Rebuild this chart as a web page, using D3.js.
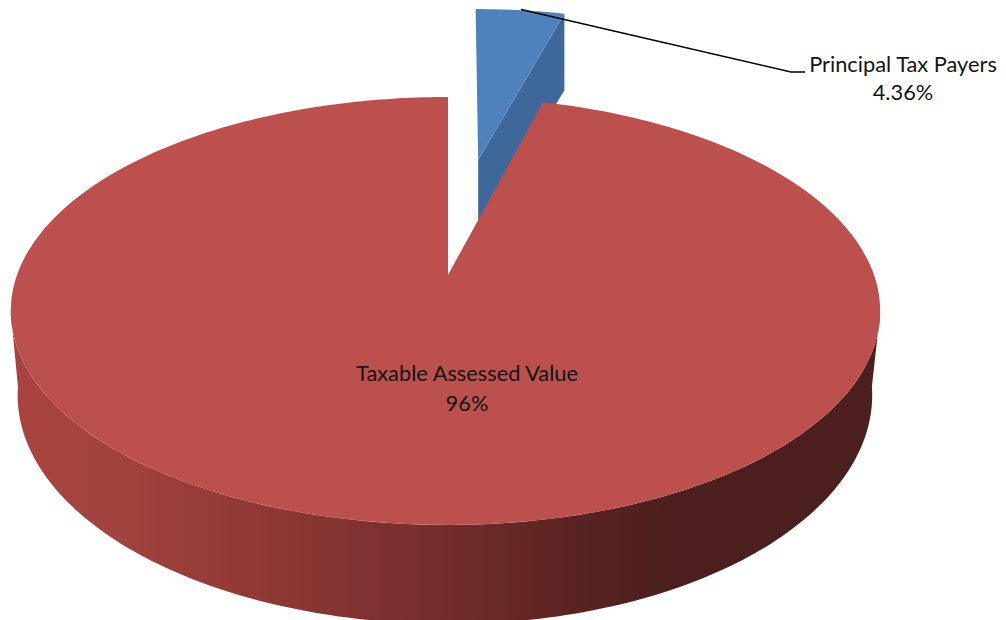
<!DOCTYPE html>
<html><head><meta charset="utf-8">
<script src="https://cdnjs.cloudflare.com/ajax/libs/d3/7.8.5/d3.min.js"></script>
<style>html,body{margin:0;background:#fff}svg{display:block}text{font-family:Lato,"Open Sans",sans-serif;fill:#141414}</style>
</head><body><svg id="c" width="1006" height="620"></svg>
<script>
const categories = ["Principal Tax Payers", "Taxable Assessed Value"];
const values = [4.36, 95.64];
const valueLabels = ["4.36%", "96%"];
const sliceColors = ["#4f81bd", "#bc504d"];
const sideColor = "#3d6899";
const rimStops = [[0,"#a8443f"],[0.12,"#a2433f"],[0.22,"#973c39"],[0.33,"#8a3633"],[0.5,"#732d2b"],[0.66,"#572220"],[0.78,"#4a1f1d"],[1,"#4a1f1d"]];

const svg = d3.select("#c");

// perspective planes of the disc: top face and bottom face
const topPlane = {cx:448, kL:431, kR:426, a:161.7, b:275, c:-0.168};
const botPlane = {cx:449, kL:422, kR:414, a:147, b:347.5, c:-0.2075};
const project = (pl, u, v) => {
  const d = 1 + pl.c * v;
  return [pl.cx + (u < 0 ? pl.kL : pl.kR) * u / d, (pl.a * v + pl.b) / d];
};
const explode = 0.615, blueRadius = 1.02, blueSideExtra = 5;
const redTrim = 0.7 * Math.PI / 180, blueStartTrim = 0.25 * Math.PI / 180, blueEndTrim = 0.45 * Math.PI / 180;

const arcs = d3.pie().sort(null).value(d => d)(values);
const blue = arcs[0], red = arcs[1];
const blueStart = blue.startAngle + blueStartTrim, blueEnd = blue.endAngle - blueEndTrim;
const redStart = red.startAngle - redTrim, redEnd = red.endAngle;

const rim = a => [Math.sin(a), -Math.cos(a)];
const samples = (a0, a1, n) => d3.range(n + 1).map(i => a0 + (a1 - a0) * i / n);
const line = d3.line();

// exploded slice offset along bisector
const mid = (blue.startAngle + blue.endAngle) / 2;
const off = [Math.sin(mid) * explode * 0.93, -Math.cos(mid) * explode];
const bluePt = (pl, a) => { const [u, v] = rim(a); return project(pl, u * blueRadius + off[0], v * blueRadius + off[1]); };
const blueApex = pl => project(pl, off[0], off[1]);
const dropped = p => [p(topPlane)[0], p(botPlane)[1] + blueSideExtra];

// gradient of the rim
const grad = svg.append("defs").append("linearGradient").attr("id", "rimGrad")
  .attr("gradientUnits", "userSpaceOnUse").attr("x1", 11).attr("x2", 880).attr("y1", 0).attr("y2", 0);
grad.selectAll("stop").data(rimStops).join("stop")
  .attr("offset", d => d[0]).attr("stop-color", d => d[1]);

// rim of large slice (front half only)
const sil0 = Math.PI * 0.555, sil1 = Math.PI * 1.445;
const rimTop = samples(sil0, sil1, 160).map(a => project(topPlane, ...rim(a)));
const rimBot = samples(sil1, sil0, 160).map(a => project(botPlane, ...rim(a)));
svg.append("path").attr("d", line(rimTop.concat(rimBot)) + "Z").attr("fill", "url(#rimGrad)");

// exploded slice: side then top
svg.append("path").attr("fill", sideColor).attr("d", line([
  blueApex(topPlane), bluePt(topPlane, blueEnd),
  dropped(pl => bluePt(pl, blueEnd)), dropped(blueApex)
]) + "Z");
svg.append("path").attr("fill", sliceColors[0]).attr("d", line(
  [blueApex(topPlane)].concat(samples(blueStart, blueEnd, 30).map(a => bluePt(topPlane, a)))
) + "Z");

// large slice top
svg.append("path").attr("fill", sliceColors[1]).attr("d", line(
  [project(topPlane, 0, 0)].concat(samples(redStart, redEnd, 360).map(a => project(topPlane, ...rim(a))))
) + "Z");

// leader line
svg.append("path").attr("fill", "none").attr("stroke", "#000").attr("stroke-width", 1.5)
  .attr("d", line([[521, 9.5], [791, 72], [805, 72]]));

// labels
const fs = 21.8;
const lab = [
  {x: 903, y: [72, 100], i: 0},
  {x: 467, y: [381, 411], i: 1}
];
lab.forEach(l => {
  svg.append("text").attr("x", l.x).attr("y", l.y[0]).attr("text-anchor", "middle").attr("font-size", fs).text(categories[l.i]);
  svg.append("text").attr("x", l.x).attr("y", l.y[1]).attr("text-anchor", "middle").attr("font-size", fs).text(valueLabels[l.i]);
});
</script></body></html>
